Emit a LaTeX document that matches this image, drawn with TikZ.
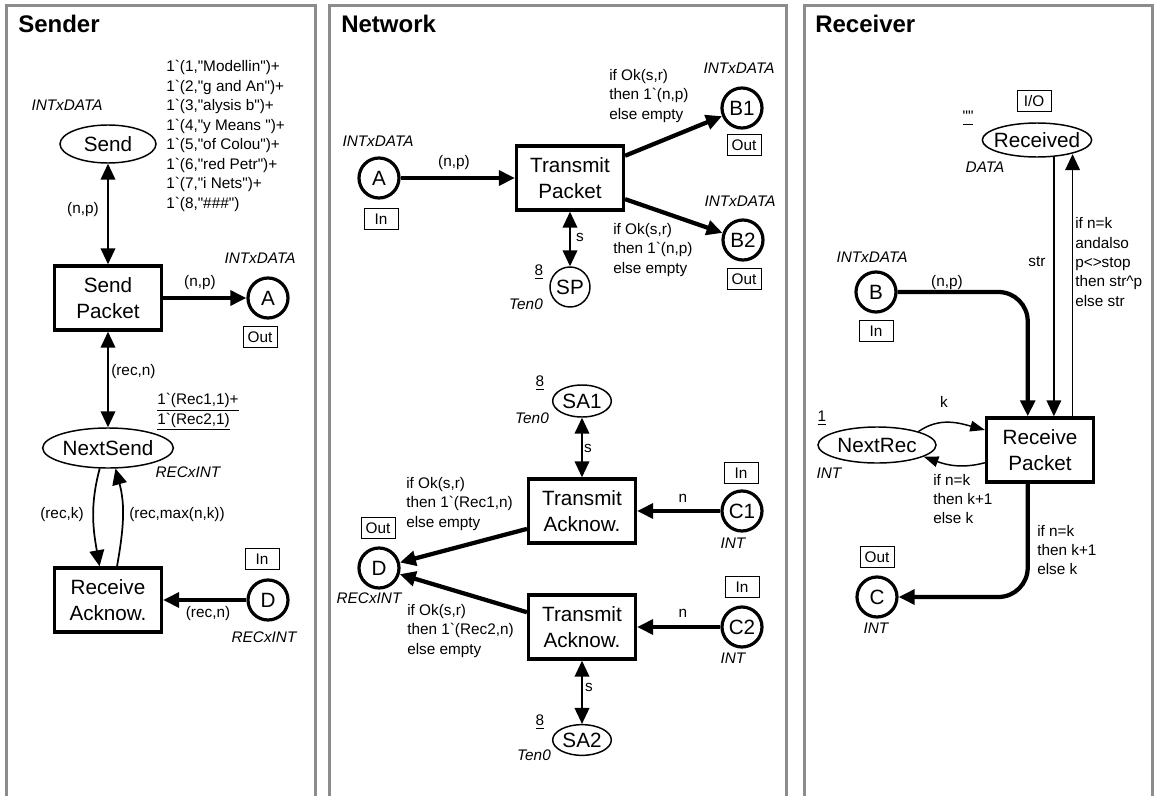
\documentclass[tikz,border=0pt]{standalone}
\usepackage{fontspec}
\setmainfont{Liberation Sans}[Ligatures=TeXOff]
\usepackage{tikz}
\usetikzlibrary{arrows.meta,shapes.geometric,positioning}
\definecolor{framegray}{RGB}{140,140,140}
\newcommand{\inscrfont}{\fontsize{11.5}{14.6}\selectfont}
\newcommand{\namefont}{\fontsize{15.5}{19}\selectfont}

\begin{document}
\begin{tikzpicture}
  [x=0.75pt,y=-0.75pt,
  place/.style={circle,draw,line width=1.1pt,inner sep=0pt,minimum size=30pt,font=\namefont},
  port place/.style={place,line width=2.4pt},
  state/.style={ellipse,draw,line width=1.1pt,inner sep=0pt,font=\namefont},
  transition/.style={rectangle,draw,line width=2.6pt,inner sep=0pt,minimum width=80pt,minimum height=48pt,align=center,font=\namefont},
  port/.style={rectangle,draw,line width=0.75pt,inner sep=0pt,minimum width=25.5pt,minimum height=16pt,font=\inscrfont},
  inscr/.style={inner sep=0pt,align=left,font=\inscrfont},
  colset/.style={inner sep=0pt,font=\inscrfont\itshape},
  title/.style={inner sep=0pt,anchor=base west,font=\fontsize{18}{20}\selectfont\bfseries},
  panel/.style={draw=framegray,line width=2.25pt},
  >={Triangle[length=12pt,width=11pt]},
  arc/.style={->,line width=1.3pt},
  both/.style={<->,line width=1.3pt},
  heavy/.style={->,line width=3.2pt},
  loop arc/.style={-{Triangle[length=11pt,width=8pt]},line width=1.1pt}
  ]
  \useasboundingbox (0,0) rectangle (1154,796);

  % the three pages
  \draw[panel] (6,796) -- (6,5) -- (315,5) -- (315,796);
  \draw[panel] (329,796) -- (329,5) -- (786,5) -- (786,796);
  \draw[panel] (804,796) -- (804,5) -- (1152,5) -- (1152,796);
  \node[title] (sender title) at (18,32) {Sender};
  \node[title] (network title) at (341,32) {Network};
  \node[title] (receiver title) at (815,32) {Receiver};

  % Sender
  \node[state,minimum width=72pt,minimum height=28.5pt] (send) at (108,144) {Send};
  \node[transition] (send packet) at (108,298) {Send\\Packet};
  \node[port place] (snd A) at (268,298) {A};
  \node[state,minimum width=98pt,minimum height=30pt] (next send) at (108,448) {NextSend};
  \node[transition] (receive ack) at (108,600) {Receive\\Acknow.};
  \node[port place] (snd D) at (268,600) {D};

  \node[colset] (send type) at (67,105) {INTxDATA};
  \node[inscr,anchor=west] (send init) at (166,136) {1`(1,"Modellin")+\\1`(2,"g and An")+\\1`(3,"alysis b")+\\1`(4,"y Means ")+\\1`(5,"of Colou")+\\1`(6,"red Petr")+\\1`(7,"i Nets")+\\1`(8,"\#\#\#")};
  \node[inscr] (np send) at (83,210) {(n,p)};
  \node[colset] (snd A type) at (260,258) {INTxDATA};
  \node[inscr] (np A) at (200,283) {(n,p)};
  \node[port] (snd A port) at (260,337) {Out};
  \node[inscr,anchor=west] (recn next) at (111,372) {(rec,n)};
  \node[inscr,anchor=west] (next send init) at (157,412) {\underline{1`(Rec1,1)+}\\\underline{1`(Rec2,1)}};
  \node[colset] (next send type) at (188,472) {RECxINT};
  \node[inscr] (reck) at (62,515) {(rec,k)};
  \node[inscr] (recmax) at (177,515) {(rec,max(n,k))};
  \node[port] (snd D port) at (262,559) {In};
  \node[inscr] (recn D) at (208,614) {(rec,n)};
  \node[colset] (snd D type) at (264,637) {RECxINT};

  \draw[both] (send) -- (send packet);
  \draw[heavy] (send packet) -- (snd A);
  \draw[both] (send packet) -- (next send);
  \draw[arc] (next send.-112) to[out=-105,in=100] (receive ack.104);
  \draw[arc] (receive ack.75) to[out=80,in=-75] (next send.-70);
  \draw[heavy] (snd D) -- (receive ack);

  % Network
  \node[port place] (net A) at (379,178) {A};
  \node[transition] (transmit packet) at (570,178) {Transmit\\Packet};
  \node[place] (SP) at (570,287) {SP};
  \node[port place] (B1) at (742,108) {B1};
  \node[port place] (B2) at (743,240) {B2};
  \node[state,minimum width=44pt,minimum height=24pt] (SA1) at (582,401) {SA1};
  \node[transition] (transmit ack1) at (582,511) {Transmit\\Acknow.};
  \node[port place] (C1) at (742,511) {C1};
  \node[port place] (net D) at (379,568) {D};
  \node[transition] (transmit ack2) at (582,627) {Transmit\\Acknow.};
  \node[port place] (C2) at (742,627) {C2};
  \node[state,minimum width=44pt,minimum height=23pt] (SA2) at (582,740) {SA2};

  \node[colset] (net A type) at (378,141) {INTxDATA};
  \node[port] (net A port) at (381,219) {In};
  \node[inscr] (np net) at (454,163) {(n,p)};
  \node[inscr] (SP init) at (539,272) {\underline{8}};
  \node[colset] (SP type) at (526,304) {Ten0};
  \node[inscr] (s SP) at (580,237) {s};
  \node[colset] (B1 type) at (739,68) {INTxDATA};
  \node[port] (B1 port) at (744,145) {Out};
  \node[inscr,anchor=west] (B1 inscr) at (609,96) {if Ok(s,r)\\then 1`(n,p)\\else empty};
  \node[colset] (B2 type) at (740,201) {INTxDATA};
  \node[port] (B2 port) at (744,279) {Out};
  \node[inscr,anchor=west] (B2 inscr) at (613,250) {if Ok(s,r)\\then 1`(n,p)\\else empty};
  \node[inscr] (SA1 init) at (540,383) {\underline{8}};
  \node[colset] (SA1 type) at (532,418) {Ten0};
  \node[inscr] (s SA1) at (588,448) {s};
  \node[port] (C1 port) at (741,473) {In};
  \node[colset] (C1 type) at (733,543) {INT};
  \node[inscr] (n C1) at (683,498) {n};
  \node[port] (net D port) at (378,528) {Out};
  \node[inscr,anchor=west] (D1 inscr) at (406,504) {if Ok(s,r)\\then 1`(Rec1,n)\\else empty};
  \node[colset] (net D type) at (369,598) {RECxINT};
  \node[port] (C2 port) at (742,587) {In};
  \node[colset] (C2 type) at (733,658) {INT};
  \node[inscr] (n C2) at (683,613) {n};
  \node[inscr,anchor=west] (D2 inscr) at (407,631) {if Ok(s,r)\\then 1`(Rec2,n)\\else empty};
  \node[inscr] (s SA2) at (589,687) {s};
  \node[inscr] (SA2 init) at (540,722) {\underline{8}};
  \node[colset] (SA2 type) at (534,755) {Ten0};

  \draw[heavy] (net A) -- (transmit packet);
  \draw[both] (transmit packet) -- (SP);
  \draw[heavy] (transmit packet.22) -- (B1);
  \draw[heavy] (transmit packet.-21) -- (B2);
  \draw[both] (SA1) -- (transmit ack1);
  \draw[heavy] (C1) -- (transmit ack1);
  \draw[heavy] (transmit ack1.-162) -- (net D);
  \draw[heavy] (transmit ack2.165) -- (net D);
  \draw[heavy] (C2) -- (transmit ack2);
  \draw[both] (transmit ack2) -- (SA2);

  % Receiver
  \node[state,minimum width=82pt,minimum height=25.5pt,inner xsep=-5pt] (received) at (1037,140) {Received};
  \node[port place] (B) at (876,292) {B};
  \node[transition] (receive packet) at (1040,450) {Receive\\Packet};
  \node[state,minimum width=88.5pt,minimum height=27pt] (next rec) at (877,445) {NextRec};
  \node[port place] (C) at (877,597) {C};

  \node[port] (received port) at (1034,101) {I/O};
  \node[inscr] (received init) at (968,118) {\underline{""}};
  \node[colset] (received type) at (985,167) {DATA};
  \node[inscr] (str) at (1037,262) {str};
  \node[inscr,anchor=west] (str inscr) at (1075,262) {if n=k\\andalso\\p<>stop\\then str\textasciicircum p\\else str};
  \node[colset] (B type) at (872,257) {INTxDATA};
  \node[port] (B port) at (876,331) {In};
  \node[inscr] (np rcv) at (947,283) {(n,p)};
  \node[inscr] (next rec init) at (822,418) {\underline{1}};
  \node[colset] (next rec type) at (829,473) {INT};
  \node[inscr] (k) at (944,402) {k};
  \node[inscr,anchor=west] (k inscr) at (933,499) {if n=k\\then k+1\\else k};
  \node[inscr,anchor=west] (C inscr) at (1037,550) {if n=k\\then k+1\\else k};
  \node[port] (C port) at (877,557) {Out};
  \node[colset] (C type) at (876,628) {INT};

  \draw[heavy,rounded corners=22pt] (B) -| (receive packet.110);
  \draw[arc] (received.-45) -- (received.-45 |- receive packet.north);
  \draw[arc] (receive packet.46) -- (receive packet.46 |- received.-23);
  \draw[loop arc] (next rec.18) to[out=35,in=165] (receive packet.160);
  \draw[loop arc] (receive packet.-167) to[out=195,in=-20] (next rec.-14);
  \draw[heavy,rounded corners=22pt] (receive packet.-110) |- (C);
\end{tikzpicture}
\end{document}
